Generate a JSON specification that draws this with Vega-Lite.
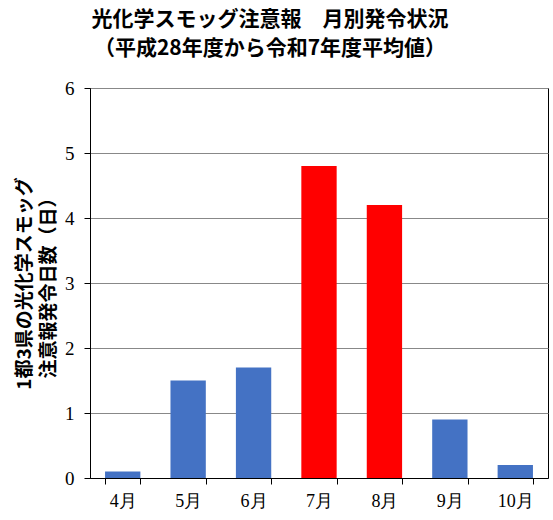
{
  "$schema": "https://vega.github.io/schema/vega-lite/v6.json",
  "width": 458,
  "height": 390,
  "autosize": "none",
  "padding": {"left": 90, "top": 88, "right": 5, "bottom": 42},
  "background": "white",
  "title": {
    "text": ["光化学スモッグ注意報　月別発令状況", "（平成28年度から令和7年度平均値）"],
    "font": "Noto Sans CJK JP",
    "fontSize": 21,
    "fontWeight": "bold",
    "color": "black",
    "anchor": "middle",
    "dx": -49,
    "lineHeight": 29,
    "offset": 20
  },
  "data": {
    "values": [
      {"month": "4月", "days": 0.1, "group": "normal"},
      {"month": "5月", "days": 1.5, "group": "normal"},
      {"month": "6月", "days": 1.7, "group": "normal"},
      {"month": "7月", "days": 4.8, "group": "peak"},
      {"month": "8月", "days": 4.2, "group": "peak"},
      {"month": "9月", "days": 0.9, "group": "normal"},
      {"month": "10月", "days": 0.2, "group": "normal"}
    ]
  },
  "mark": "bar",
  "encoding": {
    "x": {
      "field": "month",
      "type": "nominal",
      "sort": null,
      "scale": {"paddingInner": 0.46, "paddingOuter": 0.23},
      "axis": {
        "title": null,
        "labelAngle": 0,
        "labelFont": "Liberation Serif",
        "labelFontSize": 18,
        "labelColor": "black",
        "labelPadding": 8,
        "tickBand": "extent",
        "tickSize": 6,
        "tickColor": "black",
        "domainColor": "black"
      }
    },
    "y": {
      "field": "days",
      "type": "quantitative",
      "scale": {"domain": [0, 6]},
      "axis": {
        "values": [0, 1, 2, 3, 4, 5, 6],
        "title": ["1都3県の光化学スモッグ", "注意報発令日数（日）"],
        "titleFont": "Noto Sans CJK JP",
        "titleFontSize": 19,
        "titleFontWeight": "bold",
        "titleColor": "black",
        "titlePadding": 6,
        "titleLineHeight": 24,
        "labelFont": "Liberation Serif",
        "labelFontSize": 19,
        "labelColor": "black",
        "labelPadding": 10,
        "tickSize": 6,
        "tickColor": "black",
        "domainColor": "black",
        "gridColor": "#888888",
        "gridWidth": 1
      }
    },
    "color": {
      "field": "group",
      "type": "nominal",
      "scale": {"domain": ["normal", "peak"], "range": ["#4472C4", "#FF0000"]},
      "legend": null
    }
  },
  "config": {
    "view": {"stroke": "black", "strokeWidth": 1}
  }
}
